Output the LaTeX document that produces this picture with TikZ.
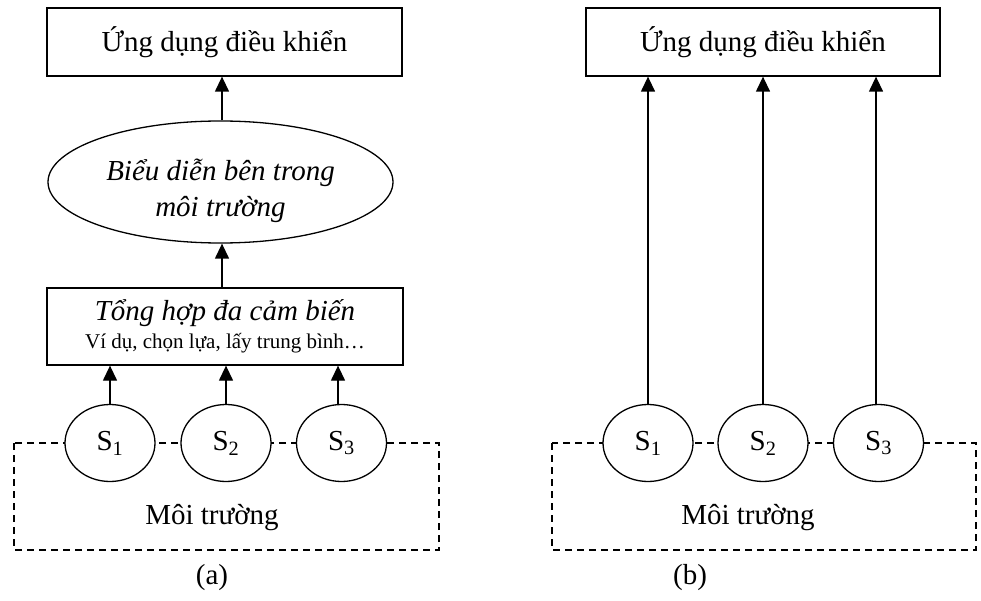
\documentclass[tikz,border=0pt]{standalone}
\usepackage{fontspec}
\setmainfont{Liberation Serif}
\usetikzlibrary{arrows.meta,shapes.geometric}
\begin{document}
\begin{tikzpicture}[x=1pt,y=-1pt,
  every node/.style={font=\fontsize{29}{34}\selectfont},
  boxnode/.style={draw,line width=1.3pt,rectangle,inner sep=0pt,fill=white},
  sensor/.style={draw,line width=1.3pt,ellipse,minimum width=90pt,minimum height=77pt,inner sep=0pt,fill=white},
  arr/.style={line width=1.3pt,-{Triangle[width=14pt,length=15pt]}},
  env/.style={line width=1.2pt,dash pattern=on 7pt off 5pt}]
\useasboundingbox (0,0) rectangle (981,601);
% ---------- (a) ----------
\draw[env] (14,443) rectangle (439,550);
\node (appa) [boxnode,minimum width=355pt,minimum height=68pt] at (224.5,42) {Ứng dụng điều khiển};
\node (repr) [draw,line width=1.3pt,ellipse,minimum width=345pt,minimum height=122pt,inner sep=0pt,
  label={[align=center,yshift=-9pt,font=\fontsize{29}{36}\selectfont\itshape]center:Biểu diễn bên trong\\môi trường}] at (220.5,182) {};
\node (fus) [boxnode,minimum width=356pt,minimum height=77pt,align=center] at (225,326.5) {\textit{Tổng hợp đa cảm biến}\\[-6pt]{\fontsize{21}{24}\selectfont Ví dụ, chọn lựa, lấy trung bình…}};
\node (s1a) [sensor] at (110,443) {S\textsubscript{1}};
\node (s2a) [sensor] at (226,443) {S\textsubscript{2}};
\node (s3a) [sensor] at (341.5,443) {S\textsubscript{3}};
\node (enva) at (212,518) {Môi trường};
\draw[arr] (s1a.north) -- (s1a.north |- fus.south);
\draw[arr] (s2a.north) -- (s2a.north |- fus.south);
\draw[arr] (s3a.north -| 338,0) -- (338,0 |- fus.south);
\draw[arr] (fus.north -| 222,0) -- (222,0 |- repr.south);
\draw[arr] (repr.north -| 222,0) -- (222,0 |- appa.south);
\node (capa) at (212,578) {(a)};
% ---------- (b) ----------
\draw[env] (552,443) rectangle (976,550);
\node (appb) [boxnode,minimum width=354pt,minimum height=68pt] at (763,42) {Ứng dụng điều khiển};
\node (s1b) [sensor] at (648,443) {S\textsubscript{1}};
\node (s2b) [sensor] at (763,443) {S\textsubscript{2}};
\node (s3b) [sensor] at (878.5,443) {S\textsubscript{3}};
\node (envb) at (748,518) {Môi trường};
\draw[arr] (s1b.north) -- (s1b.north |- appb.south);
\draw[arr] (s2b.north) -- (s2b.north |- appb.south);
\draw[arr] (s3b.north -| 876,0) -- (876,0 |- appb.south);
\node (capb) at (690,578) {(b)};
\end{tikzpicture}
\end{document}
